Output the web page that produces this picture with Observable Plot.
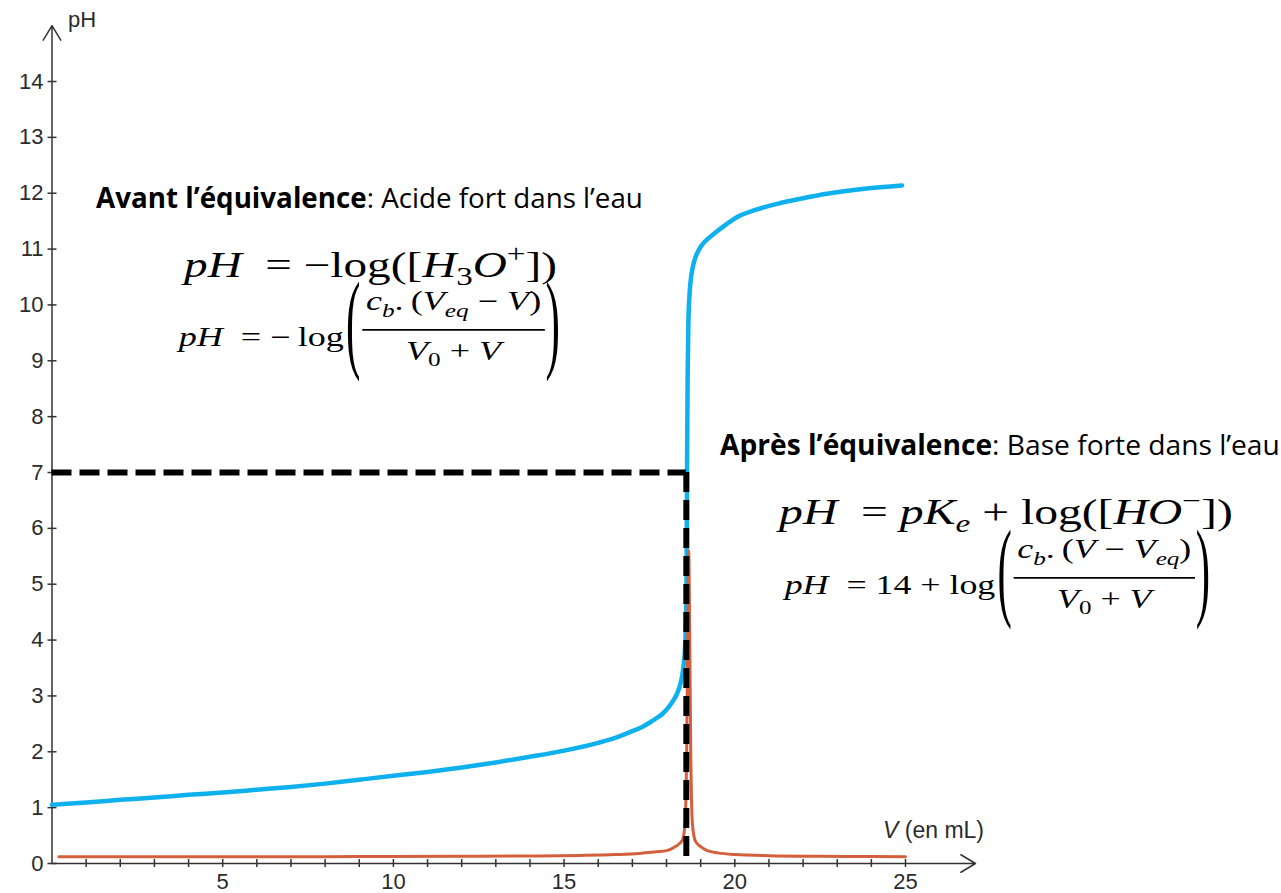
<!DOCTYPE html>
<html><head><meta charset="utf-8">
<script src="https://cdn.jsdelivr.net/npm/d3@7"></script>
<script src="https://cdn.jsdelivr.net/npm/@observablehq/plot@0.6"></script>
<style>html,body{margin:0;padding:0;background:#fff;overflow:hidden}</style>
</head><body><div id="chart"></div>
<script>
// ---- data ----
const V_pH = [0, 1, 2, 3, 4, 5, 6, 7, 8, 9, 10, 11, 12, 13, 14, 15, 16, 16.5, 17, 17.3, 17.5, 17.7, 17.9, 18.05, 18.2, 18.3, 18.4, 18.46, 18.51, 18.55, 18.57, 18.59, 18.6, 18.62, 18.64, 18.67, 18.71, 18.77, 18.86, 18.98, 19.15, 19.38, 19.7, 20.06, 20.6, 21.24, 22.0, 22.7, 23.8, 24.9];
const pH_values = [1.05, 1.09, 1.14, 1.18, 1.23, 1.27, 1.32, 1.37, 1.43, 1.50, 1.57, 1.64, 1.72, 1.81, 1.91, 2.02, 2.16, 2.25, 2.37, 2.45, 2.52, 2.6, 2.69, 2.79, 2.92, 3.03, 3.2, 3.37, 3.6, 3.95, 4.4, 5.3, 7.0, 8.8, 9.67, 10.15, 10.45, 10.68, 10.87, 11.02, 11.15, 11.27, 11.42, 11.57, 11.7, 11.81, 11.91, 11.99, 12.08, 12.14];
const V_deriv = [0.2, 3, 6, 9, 12, 14, 15.5, 16.5, 17.2, 17.7, 18.0, 18.25, 18.46, 18.54, 18.59, 18.62, 18.65, 18.68, 18.71, 18.76, 18.84, 19.0, 19.2, 19.5, 20.0, 21.0, 22.5, 24, 25];
const deriv_values = [0.12, 0.12, 0.12, 0.125, 0.13, 0.135, 0.145, 0.16, 0.18, 0.21, 0.23, 0.3, 0.41, 0.7, 2.0, 4.0, 5.6, 4.0, 2.0, 0.7, 0.41, 0.3, 0.23, 0.19, 0.16, 0.14, 0.13, 0.125, 0.12];
const yTicks = [0, 1, 2, 3, 4, 5, 6, 7, 8, 9, 10, 11, 12, 13, 14];
const xMinorTicks = d3.range(1, 26);
const xLabels = [5, 10, 15, 20, 25];
const Veq = 18.58;
const pHeq = 7;
const axisTipV = 27.05;
const axisTipPH = 15;

const curve = V_pH.map((v, i) => ({V: v, pH: pH_values[i]}));
const deriv = V_deriv.map((v, i) => ({V: v, d: deriv_values[i]}));

const axisColor = "#333";
const chart = Plot.plot({
  width: 1281, height: 893,
  marginLeft: 51.5, marginRight: 376, marginTop: 81, marginBottom: 30,
  x: {domain: [0, 25]},
  y: {domain: [0, 14]},
  style: {background: "white", fontFamily: "'Liberation Sans', Arial, sans-serif", fontSize: "22px", overflow: "visible"},
  marks: [
    Plot.arrow([0], {x1: 0, y1: 0, x2: axisTipV, y2: 0, stroke: axisColor, strokeWidth: 1.5, headLength: 17, headAngle: 62}),
    Plot.arrow([0], {x1: 0, y1: 0, x2: 0, y2: axisTipPH, stroke: axisColor, strokeWidth: 1.5, headLength: 17, headAngle: 62}),
    Plot.ruleX(xMinorTicks, {x: d => d, y1: 0, y2: 0, insetTop: -4, insetBottom: -4, stroke: axisColor, strokeWidth: 1.5}),
    Plot.ruleY(yTicks, {y: d => d, x1: 0, x2: 0, insetLeft: -4, insetRight: -5, stroke: axisColor, strokeWidth: 1.5}),
    Plot.axisY({ticks: yTicks, tickSize: 0, tickPadding: 8.5, fontSize: 22, label: null, color: "#2b2b2b"}),
    Plot.axisX({ticks: xLabels, tickSize: 0, tickPadding: 10, fontSize: 22, label: null, color: "#2b2b2b"}),
    Plot.line(curve, {x: "V", y: "pH", stroke: "#0fb0ee", strokeWidth: 4.5, curve: "monotone-x"}),
    Plot.line(deriv, {x: "V", y: "d", stroke: "#d35f3d", strokeWidth: 3, curve: "monotone-x"}),
    Plot.ruleY([pHeq], {x1: 0, x2: Veq, stroke: "black", strokeWidth: 6, strokeDasharray: "20,8"}),
    Plot.ruleX([Veq], {y1: pHeq, y2: 0, stroke: "black", strokeWidth: 6, strokeDasharray: "20,8"})
  ]
});
document.getElementById("chart").appendChild(chart);

const svg = d3.select(chart);
const ann = svg.append("g").attr("text-anchor", "start");

// axis titles
ann.append("text").attr("x", 68).attr("y", 27)
  .attr("font-family", "'Liberation Sans', Arial, sans-serif").attr("font-size", 22).attr("fill", "#2b2b2b").text("pH");
const vt = ann.append("text").attr("x", 984).attr("y", 838).attr("text-anchor", "end")
  .attr("font-family", "'Liberation Sans', Arial, sans-serif").attr("font-size", 23).attr("fill", "#2b2b2b");
vt.append("tspan").attr("font-style", "italic").text("V");
vt.append("tspan").text(" (en mL)");

const mathFont = "'Liberation Serif', 'DejaVu Serif', serif";
const textFont = "'Open Sans', 'Noto Sans', sans-serif";

function rich(g, parts, F, family) {
  const t = g.append("text").attr("font-family", family).attr("font-size", F).attr("fill", "#000")
    .attr("text-anchor", "start").attr("xml:space", "preserve").style("white-space", "pre");
  let shift = 0;
  parts.forEach(p => {
    const ts = t.append("tspan").text(p.t);
    let target = 0, size = F;
    if (p.sub) { target = 0.24 * F; size = 0.7 * F; }
    if (p.sup) { target = -0.42 * F; size = 0.7 * F; }
    ts.attr("font-size", size);
    if (target !== shift) { ts.attr("dy", target - shift); shift = target; }
    if (p.i) ts.attr("font-style", "italic");
    if (p.b) ts.attr("font-weight", "bold");
  });
  return t;
}
// horizontal fit to a target width; vertical scale 1 keeps the nominal font size
function fit(inner, x0, y0, targetW, iso) {
  const bb = inner.node().getBBox();
  const kx = targetW / bb.width;
  const ky = iso ? kx : 1;
  inner.attr("transform", `translate(${x0 - kx * bb.x},${y0}) scale(${kx},${ky})`);
}
function simple(x0, y0, targetW, F, family, parts, iso) {
  const inner = ann.append("g");
  rich(inner, parts, F, family);
  fit(inner, x0, y0, targetW, iso);
}
function paren(inner, ch, x, barY, F, H) {
  const sy = H / (0.871 * F), sx = 1.2;
  inner.append("text").text(ch).attr("font-family", mathFont).attr("font-size", F).attr("fill", "#000")
    .attr("text-anchor", "start")
    .attr("transform", `translate(${x},${barY + 0.2585 * F * sy}) scale(${sx},${sy})`);
  return 0.333 * F * sx;
}
function fraction(x0, y0, targetW, F, prefix, num, den) {
  const inner = ann.append("g");
  const p = rich(inner, prefix, F, mathFont);
  let x = p.node().getComputedTextLength() + 0.06 * F;
  const barY = -0.6 * F;
  const H = 3.55 * F;
  x += paren(inner, "(", x, barY, F, H) + 0.05 * F;
  const nt = rich(inner, num, F, mathFont), dt = rich(inner, den, F, mathFont);
  const wn = nt.node().getComputedTextLength(), wd = dt.node().getComputedTextLength();
  const fw = Math.max(wn, wd) + 0.2 * F;
  nt.attr("x", x + (fw - wn) / 2).attr("y", barY - 0.72 * F);
  dt.attr("x", x + (fw - wd) / 2).attr("y", barY + 1.1 * F);
  inner.append("line").attr("x1", x).attr("x2", x + fw).attr("y1", barY).attr("y2", barY)
    .attr("stroke", "#000").attr("stroke-width", 0.065 * F);
  x += fw + 0.02 * F;
  paren(inner, ")", x, barY, F, H);
  fit(inner, x0, y0, targetW, false);
}

const sp = "\u2005"; // medium math space
// Left block: before equivalence
simple(96, 208, 547, 24, textFont, [{t: "Avant l’équivalence", b: true}, {t: ": Acide fort dans l’eau"}], true);
simple(180, 277, 377, 35, mathFont, [
  {t: "pH", i: true}, {t: " " + sp + "=" + sp + "\u2212log(["}, {t: "H", i: true}, {t: "3", sub: true},
  {t: "O", i: true}, {t: "+", sup: true}, {t: "])"}
], false);
fraction(176, 346, 384, 27,
  [{t: "pH", i: true}, {t: " " + sp + "=" + sp + "\u2212" + "\u2009log"}],
  [{t: "c", i: true}, {t: "b", i: true, sub: true}, {t: ".\u2009("}, {t: "V", i: true}, {t: "eq", i: true, sub: true}, {t: sp + "\u2212" + sp}, {t: "V", i: true}, {t: ")"}],
  [{t: "V", i: true}, {t: "0", sub: true}, {t: sp + "+" + sp}, {t: "V", i: true}]
);

// Right block: after equivalence
simple(720, 455, 560, 24, textFont, [{t: "Après l’équivalence", b: true}, {t: ": Base forte dans l’eau"}], true);
simple(775, 524, 458, 35, mathFont, [
  {t: "pH", i: true}, {t: " " + sp + "=" + sp}, {t: "pK", i: true}, {t: "e", i: true, sub: true},
  {t: sp + "+" + sp + "log(["}, {t: "HO", i: true}, {t: "\u2212", sup: true}, {t: "])"}
], false);
fraction(782, 594, 428, 27,
  [{t: "pH", i: true}, {t: " " + sp + "=" + sp + "14" + sp + "+" + sp + "log"}],
  [{t: "c", i: true}, {t: "b", i: true, sub: true}, {t: ".\u2009("}, {t: "V", i: true}, {t: sp + "\u2212" + sp}, {t: "V", i: true}, {t: "eq", i: true, sub: true}, {t: ")"}],
  [{t: "V", i: true}, {t: "0", sub: true}, {t: sp + "+" + sp}, {t: "V", i: true}]
);
</script></body></html>
